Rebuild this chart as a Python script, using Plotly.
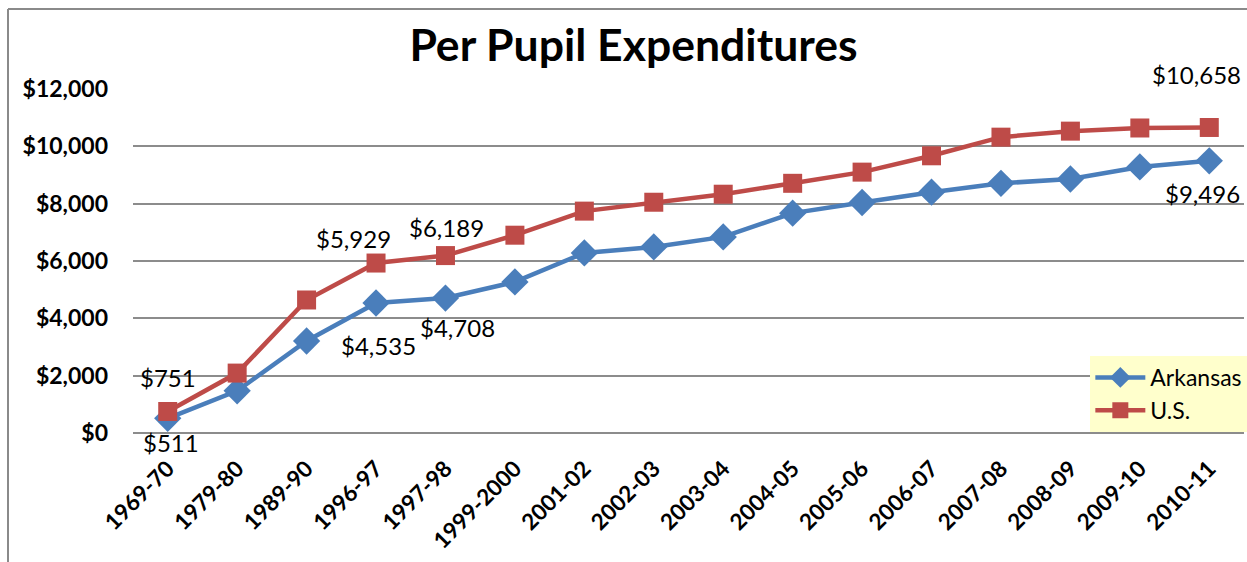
import plotly.graph_objects as go

categories = ["1969-70", "1979-80", "1989-90", "1996-97", "1997-98", "1999-2000",
              "2001-02", "2002-03", "2003-04", "2004-05", "2005-06", "2006-07",
              "2007-08", "2008-09", "2009-10", "2010-11"]
arkansas = [511, 1470, 3210, 4535, 4708, 5270, 6280, 6490, 6840, 7670, 8040, 8400,
            8710, 8860, 9280, 9496]
us = [751, 2090, 4640, 5929, 6189, 6900, 7740, 8050, 8330, 8710, 9100, 9670,
      10320, 10530, 10640, 10658]
y_ticks = [0, 2000, 4000, 6000, 8000, 10000, 12000]
y_tick_labels = ["$0", "$2,000", "$4,000", "$6,000", "$8,000", "$10,000", "$12,000"]

# labelled points: (index, xshift, yshift)
ark_labels = [(0, 3, -24), (3, 2, -42), (4, 12, -29), (15, -7, -33)]
us_labels = [(0, 0, 34), (3, -23, 25), (4, 1, 28), (15, -13, 53)]

FONT = "Lato"
blue = "#4A7EBB"
red = "#BE4B48"

fig = go.Figure()
fig.add_trace(go.Scatter(
    x=categories, y=arkansas, name="Arkansas", mode="lines+markers",
    line=dict(color=blue, width=4.5),
    marker=dict(symbol="diamond", size=21, color=blue)))
fig.add_trace(go.Scatter(
    x=categories, y=us, name="U.S.", mode="lines+markers",
    line=dict(color=red, width=4.5),
    marker=dict(symbol="square", size=19, color=red)))

annotations = []
for idx, xs, ys in ark_labels:
    annotations.append(dict(x=categories[idx], y=arkansas[idx], xref="x", yref="y",
                            text=f"${arkansas[idx]:,}", showarrow=False,
                            xshift=xs, yshift=ys,
                            font=dict(family=FONT, size=24, color="#000")))
for idx, xs, ys in us_labels:
    annotations.append(dict(x=categories[idx], y=us[idx], xref="x", yref="y",
                            text=f"${us[idx]:,}", showarrow=False,
                            xshift=xs, yshift=ys,
                            font=dict(family=FONT, size=24, color="#000")))

fig.update_layout(
    width=1247, height=562,
    margin=dict(l=133, r=3, t=89, b=129, autoexpand=False),
    paper_bgcolor="white", plot_bgcolor="white",
    title=dict(text="<b>Per Pupil Expenditures</b>", x=0.508, xanchor="center",
               y=0.92, yanchor="middle",
               font=dict(family=FONT, size=44.5, color="#000")),
    xaxis=dict(type="category", tickangle=-45, showgrid=False, showline=False,
               ticks="", tickfont=dict(family=FONT, size=22.5, color="#000"),
               tickvals=categories, ticktext=[f"<b>{c}</b>" for c in categories],
               ticklabelstandoff=17,
               range=[-0.5, len(categories) - 0.5]),
    yaxis=dict(range=[0, 12000], tickvals=y_ticks, ticktext=[f"<b>{t}</b>" for t in y_tick_labels],
               showgrid=True, gridcolor="#8C8C8C", gridwidth=1.5, zeroline=True,
               zerolinecolor="#8C8C8C", zerolinewidth=1.5, showline=False, ticks="",
               tickfont=dict(family=FONT, size=23, color="#000"), ticklabelstandoff=24),
    legend=dict(x=1.003, xanchor="right", y=0.003, yanchor="bottom",
                bgcolor="#FFFFCC", font=dict(family=FONT, size=23, color="#000"),
                itemwidth=50, tracegroupgap=0),
    annotations=annotations,
    shapes=[dict(type="line", xref="paper", yref="paper",
                 x0=(8 - 133) / 1111, x1=(8 - 133) / 1111,
                 y0=(433 - 9) / 344, y1=(433 - 570) / 344,
                 line=dict(color="#8A8A8A", width=2)),
            dict(type="line", xref="paper", yref="paper",
                 x0=(8 - 133) / 1111, x1=(1260 - 133) / 1111,
                 y0=(433 - 9) / 344, y1=(433 - 9) / 344,
                 line=dict(color="#8A8A8A", width=2))],
)

fig.write_html("out.html", config={"displayModeBar": False},
               post_script="document.body.style.margin='0';")
